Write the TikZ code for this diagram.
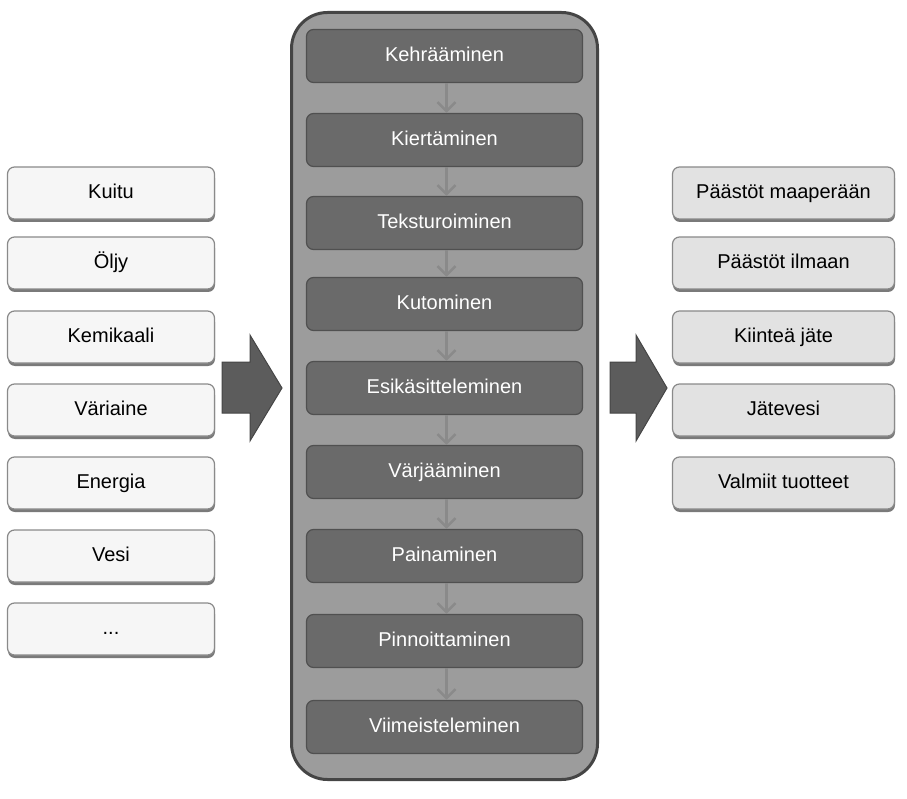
\documentclass[tikz,border=0pt]{standalone}
\usepackage{fontspec}
\setmainfont{Liberation Sans}
\usetikzlibrary{arrows.meta}
\definecolor{inbox}{HTML}{F6F6F6}
\definecolor{outbox}{HTML}{E2E2E2}
\definecolor{boxline}{HTML}{8A8A8A}
\definecolor{shadowc}{HTML}{7A7A7A}
\definecolor{contfill}{HTML}{9C9C9C}
\definecolor{contline}{HTML}{454545}
\definecolor{stepfill}{HTML}{6A6A6A}
\definecolor{stepline}{HTML}{505050}
\definecolor{smallarr}{HTML}{8A8A8A}
\definecolor{bigarr}{HTML}{5C5C5C}
\tikzset{
  sidebox/.style={draw=boxline, line width=1.2pt, rounded corners=7pt, minimum width=207pt, minimum height=52pt, font=\fontsize{20}{23}\selectfont, text=black, text height=15pt, text depth=4pt},
  inputbox/.style={sidebox, fill=inbox},
  outputbox/.style={sidebox, fill=outbox, minimum width=222pt},
  stepbox/.style={draw=stepline, line width=1.2pt, fill=stepfill, rounded corners=7pt, minimum width=276pt, minimum height=53pt, font=\fontsize{20}{23}\selectfont, text=white, text height=15pt, text depth=4pt},
  flowarrow/.style={draw=smallarr, line width=2.5pt, -{Straight Barb[length=9pt,width=18pt,line width=2.5pt]}},
  bigarrow/.style={draw=contline, line width=1pt, fill=bigarr}
}
\begin{document}
\begin{tikzpicture}[x=1pt,y=-1pt]
\useasboundingbox (0,0) rectangle (907,799);
% container
\node[draw=contline, line width=3pt, fill=contfill, rounded corners=36pt, minimum width=306pt, minimum height=767pt] (cont) at (444.5,396) {};
% inputs
\foreach \y in {193,263,337,410,483,556,629}{
  \fill[shadowc, rounded corners=7pt] (8,\y-22) rectangle (215,\y+29);
}
\node[inputbox] (i1) at (111,193) {Kuitu};
\node[inputbox] (i2) at (111,263) {Öljy};
\node[inputbox] (i3) at (111,337) {Kemikaali};
\node[inputbox] (i4) at (111,410) {Väriaine};
\node[inputbox] (i5) at (111,483) {Energia};
\node[inputbox] (i6) at (111,556) {Vesi};
\node[inputbox] (i7) at (111,629) {...};
% outputs
\foreach \y in {193,263,337,410,483}{
  \fill[shadowc, rounded corners=7pt] (673,\y-22) rectangle (895,\y+29);
}
\node[outputbox] (o1) at (783.5,193) {Päästöt maaperään};
\node[outputbox] (o2) at (783.5,263) {Päästöt ilmaan};
\node[outputbox] (o3) at (783.5,337) {Kiinteä jäte};
\node[outputbox] (o4) at (783.5,410) {Jätevesi};
\node[outputbox] (o5) at (783.5,483) {Valmiit tuotteet};
% steps
\node[stepbox] (s1) at (444.5,56) {Kehrääminen};
\node[stepbox] (s2) at (444.5,140) {Kiertäminen};
\node[stepbox] (s3) at (444.5,223) {Teksturoiminen};
\node[stepbox] (s4) at (444.5,304) {Kutominen};
\node[stepbox] (s5) at (444.5,388) {Esikäsitteleminen};
\node[stepbox] (s6) at (444.5,472) {Värjääminen};
\node[stepbox] (s7) at (444.5,556) {Painaminen};
\node[stepbox] (s8) at (444.5,641) {Pinnoittaminen};
\node[stepbox] (s9) at (444.5,727) {Viimeisteleminen};
\foreach \a/\b in {s1/s2,s2/s3,s3/s4,s4/s5,s5/s6,s6/s7,s7/s8,s8/s9}{
  \draw[flowarrow] ([xshift=2pt]\a.south) -- ([xshift=2pt]\b.north);
}
% big arrows
\draw[bigarrow] (222,362) -- (250,362) -- (250,335) -- (282,388) -- (250,441) -- (250,413) -- (222,413) -- cycle;
\draw[bigarrow] (610,362) -- (636,362) -- (636,335) -- (667,388) -- (636,441) -- (636,413) -- (610,413) -- cycle;
\end{tikzpicture}
\end{document}
